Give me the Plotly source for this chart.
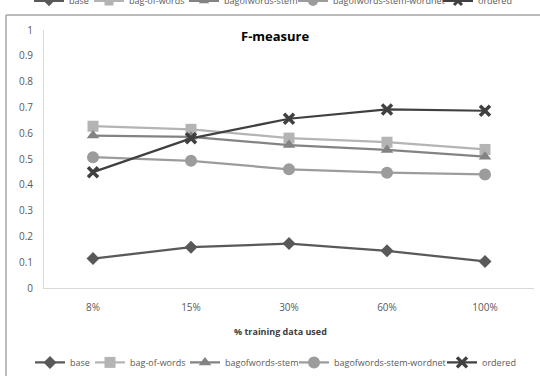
import plotly.graph_objects as go

categories = ["8%", "15%", "30%", "60%", "100%"]
series_names = ["base", "bag-of-words", "bagofwords-stem", "bagofwords-stem-wordnet", "ordered"]
base = [0.114, 0.158, 0.172, 0.144, 0.103]
bag_of_words = [0.627, 0.615, 0.581, 0.565, 0.537]
bagofwords_stem = [0.591, 0.586, 0.554, 0.535, 0.509]
bagofwords_stem_wordnet = [0.507, 0.493, 0.460, 0.447, 0.440]
ordered = [0.449, 0.580, 0.656, 0.692, 0.687]
y_ticks = [0, 0.1, 0.2, 0.3, 0.4, 0.5, 0.6, 0.7, 0.8, 0.9, 1]

values = [base, bag_of_words, bagofwords_stem, bagofwords_stem_wordnet, ordered]
colors = ["#595959", "#b4b4b4", "#838383", "#9c9c9c", "#404040"]
symbols = ["diamond", "square", "triangle-up", "circle", "x-thin-open"]
sizes = [10, 11, 11, 12, 10]

# pixel geometry
W, H = 540, 376
L, R, T, B = 44, 6, 30, 88.3
PW, PH = W - L - R, H - T - B


def px(xp):
    return (xp - L) / PW


def py(yp):
    return (H - B - yp) / PH


legend_text_x_bottom = [70, 130, 225, 334, 482]
legend_text_x_top = [69, 129, 224, 333, 478]

FONT = "Open Sans"
LFS = 9
fig = go.Figure()
for i, (name, vals, c, s, sz) in enumerate(zip(series_names, values, colors, symbols, sizes)):
    mk = dict(symbol=s, size=sz, color=c)
    if s == "x-thin-open":
        mk["line"] = dict(color=c, width=3.5)
    fig.add_trace(go.Scatter(x=categories, y=vals, name=name, mode="lines+markers",
                             line=dict(color=c, width=2.25), marker=mk,
                             legend="legend" if i == 0 else f"legend{i + 1}"))
# cropped legend of the chart above (top edge)
for i, (name, c, s, sz) in enumerate(zip(series_names, colors, symbols, sizes)):
    mk = dict(symbol=s, size=sz - 2, color=c)
    if s == "x-thin-open":
        mk["line"] = dict(color=c, width=3)
    fig.add_trace(go.Scatter(x=[None], y=[None], name=name, mode="lines+markers",
                             line=dict(color=c, width=2.25), marker=mk,
                             legend=f"legend{i + 6}", hoverinfo="skip"))

legend_layouts = {}
for i in range(5):
    key = "legend" if i == 0 else f"legend{i + 1}"
    legend_layouts[key] = dict(orientation="h", x=px(legend_text_x_bottom[i] - 40), xanchor="left",
                               y=py(362), yanchor="middle", bgcolor="rgba(0,0,0,0)",
                               font=dict(family=FONT, size=LFS, color="#595959"), itemwidth=30)
    legend_layouts[f"legend{i + 6}"] = dict(orientation="h", x=px(legend_text_x_top[i] - 40),
                                            xanchor="left", y=py(1), yanchor="middle",
                                            bgcolor="rgba(0,0,0,0)",
                                            font=dict(family=FONT, size=LFS, color="#595959"),
                                            itemwidth=30)

fig.update_layout(
    width=W, height=H,
    margin=dict(l=L, r=R, t=T, b=B, autoexpand=False),
    paper_bgcolor="white", plot_bgcolor="white",
    font=dict(family=FONT, size=10, color="#595959"),
    showlegend=True,
    xaxis=dict(type="category", range=[-0.5, 4.5], showgrid=False, showline=True,
               linecolor="#d9d9d9", linewidth=1, ticks="", ticklabelstandoff=10,
               tickfont=dict(family=FONT, size=10, color="#595959"), zeroline=False),
    yaxis=dict(range=[0, 1], tickvals=y_ticks, ticktext=[f"{v:g}" for v in y_ticks],
               showgrid=False, showline=True, linecolor="#d9d9d9", linewidth=1, ticks="",
               ticklabelstandoff=8, zeroline=False,
               tickfont=dict(family=FONT, size=10, color="#595959")),
    annotations=[
        dict(text="<b>F-measure</b>", x=px(275), y=py(36), xanchor="center", yanchor="middle",
             xref="paper", yref="paper", showarrow=False,
             font=dict(family=FONT, size=13, color="#000000")),
        dict(text="<b>% training data used</b>", x=px(280), y=py(331),
             xanchor="center", yanchor="middle",
             xref="paper", yref="paper", showarrow=False,
             font=dict(family=FONT, size=9, color="#404040")),
    ],
    shapes=[
        dict(type="line", xref="paper", yref="paper", x0=px(6), x1=px(541),
             y0=py(15), y1=py(15), line=dict(color="#a6a6a6", width=1.5)),
        dict(type="line", xref="paper", yref="paper", x0=px(6), x1=px(6),
             y0=py(15), y1=py(380), line=dict(color="#a6a6a6", width=1.5)),
    ],
    **legend_layouts,
)

fig.write_html("out.html", config={"displayModeBar": False},
               post_script="document.body.style.margin='0px';document.body.style.overflow='hidden';")
